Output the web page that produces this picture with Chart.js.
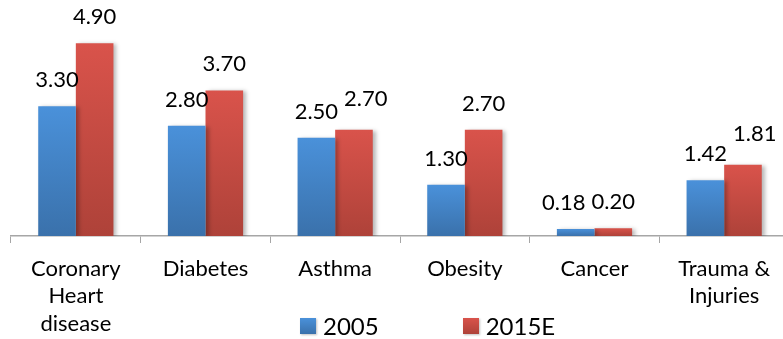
<!DOCTYPE html>
<html>
<head>
<meta charset="utf-8">
<script src="https://cdn.jsdelivr.net/npm/chart.js@4"></script>
<style>
  html, body { margin: 0; padding: 0; background: #fff; overflow: hidden; }
  #wrap { position: relative; width: 800px; height: 339px; }
  #legend { position: absolute; top: 312px; left: 300px; display: flex; gap: 84px;
            font-family: Lato, sans-serif; font-size: 24px; color: #000; line-height: 28px; }
  .item { display: flex; align-items: center; }
  .swatch { width: 16px; height: 16px; margin-right: 7px; box-shadow: 1px 1px 2px rgba(0,0,0,0.25); }
</style>
</head>
<body>
<div id="wrap">
  <canvas id="chart" width="800" height="339"></canvas>
  <div id="legend"></div>
</div>
<script>
// categories and values
const categories = [['Coronary', 'Heart', 'disease'], 'Diabetes', 'Asthma', 'Obesity', 'Cancer', ['Trauma &', 'Injuries']];
const seriesNames = ['2005', '2015E'];
const values2005 = [3.30, 2.80, 2.50, 1.30, 0.18, 1.42];
const values2015E = [4.90, 3.70, 2.70, 2.70, 0.20, 1.81];

const blue = ['#4a91da', '#3a71ab'];
const red = ['#d9534b', '#ae4239'];

// vertical gradient per bar, from its top down to the baseline
function barFill(colors) {
  return (c) => {
    const chart = c.chart;
    if (!chart.chartArea || c.type !== 'data') return colors[0];
    const y = chart.scales.y;
    const g = chart.ctx.createLinearGradient(0, y.getPixelForValue(c.parsed.y), 0, y.getPixelForValue(0));
    g.addColorStop(0, colors[0]);
    g.addColorStop(1, colors[1]);
    return g;
  };
}

// soft drop shadow behind the bars
const barShadow = {
  id: 'barShadow',
  beforeDatasetsDraw(chart) {
    const ctx = chart.ctx;
    ctx.save();
    ctx.shadowColor = 'rgba(0,0,0,0.28)';
    ctx.shadowBlur = 4;
    ctx.shadowOffsetX = 3;
    ctx.shadowOffsetY = 1;
  },
  afterDatasetsDraw(chart) {
    chart.ctx.restore();
  }
};

// value labels above each bar, pushed apart when a pair would collide
const valueLabels = {
  id: 'valueLabels',
  afterDatasetsDraw(chart) {
    const ctx = chart.ctx;
    const left = chart.getDatasetMeta(0).data;
    const right = chart.getDatasetMeta(1).data;
    const dsA = chart.data.datasets[0].data;
    const dsB = chart.data.datasets[1].data;
    ctx.save();
    ctx.font = '22px Lato';
    ctx.fillStyle = '#000';
    ctx.textAlign = 'center';
    ctx.textBaseline = 'alphabetic';
    left.forEach((barA, i) => {
      const barB = right[i];
      const ta = dsA[i].toFixed(2);
      const tb = dsB[i].toFixed(2);
      let ax = barA.x, ay = barA.y - 19;
      let bx = barB.x, by = barB.y - 19;
      const wa = ctx.measureText(ta).width;
      const wb = ctx.measureText(tb).width;
      const overlap = (ax + wa / 2 + 6) - (bx - wb / 2);
      if (overlap > 0 && Math.abs(ay - by) < 22) {
        if (Math.abs(ay - by) < 3) {
          ax -= overlap;
        } else {
          bx += overlap;
          by -= 5;
        }
      }
      ctx.fillText(ta, ax, ay);
      ctx.fillText(tb, bx, by);
    });
    ctx.restore();
  }
};

const chart = new Chart(document.getElementById('chart'), {
  type: 'bar',
  data: {
    labels: categories,
    datasets: [
      { label: seriesNames[0], data: values2005, backgroundColor: barFill(blue) },
      { label: seriesNames[1], data: values2015E, backgroundColor: barFill(red) }
    ]
  },
  options: {
    responsive: false,
    animation: false,
    devicePixelRatio: 1,
    datasets: { bar: { categoryPercentage: 0.58, barPercentage: 1.0, borderWidth: 0 } },
    layout: { padding: { left: 11, right: 11, top: 0, bottom: 0 } },
    plugins: { legend: { display: false }, tooltip: { enabled: false } },
    scales: {
      x: {
        grid: { display: true, drawOnChartArea: false, drawTicks: true, tickLength: 7, color: '#a6a6a6', offset: true },
        border: { display: true, color: '#a6a6a6', width: 1.5 },
        ticks: { font: { family: 'Lato', size: 22, lineHeight: 1.25 }, color: '#000', padding: 12, maxRotation: 0, autoSkip: false },
        afterFit(scale) { scale.height = 103; }
      },
      y: { display: false, min: 0, max: 6 }
    }
  },
  plugins: [barShadow, valueLabels]
});

// legend below the axis labels
const legend = document.getElementById('legend');
[blue, red].forEach((colors, i) => {
  const item = document.createElement('div');
  item.className = 'item';
  const sw = document.createElement('span');
  sw.className = 'swatch';
  sw.style.background = `linear-gradient(${colors[0]}, ${colors[1]})`;
  const txt = document.createElement('span');
  txt.textContent = chart.data.datasets[i].label;
  item.appendChild(sw);
  item.appendChild(txt);
  legend.appendChild(item);
});
</script>
</body>
</html>
